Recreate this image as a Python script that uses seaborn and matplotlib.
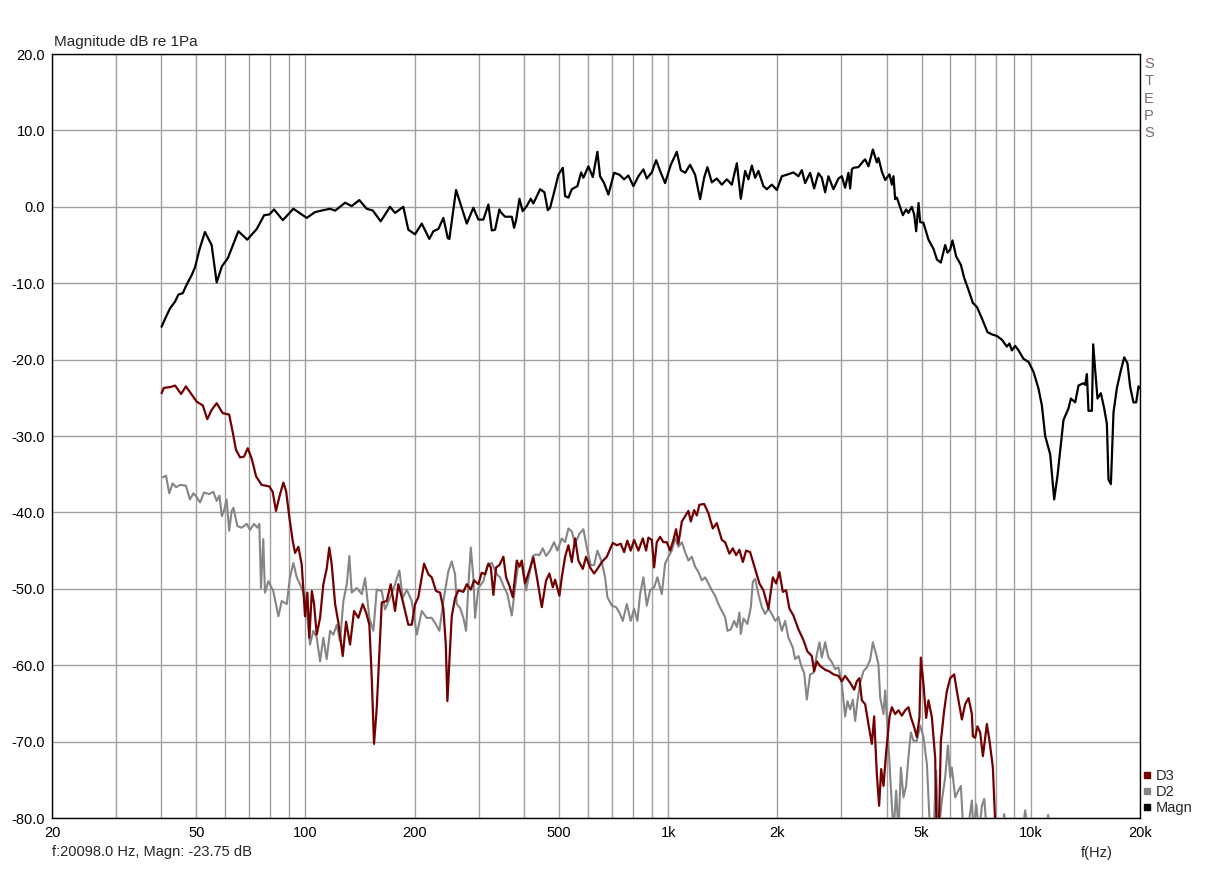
import matplotlib
matplotlib.use("Agg")
import matplotlib.pyplot as plt
from matplotlib.lines import Line2D
import seaborn as sns
import pandas as pd

# ---------------- data ----------------
magn_freq = [40.1, 41.25, 42.3, 43.7, 44.6, 45.9, 47.0, 48.6, 49.6, 51.0, 52.8, 55.1, 56.9, 58.8, 61.1,
             65.3, 69.1, 73.4, 76.9, 79.5, 81.9, 86.6, 92.6, 100.8, 106.2, 112, 116.9, 120.7, 128.6,
             134.1, 140.8, 147.5, 153.3, 161.2, 171, 176.6, 186.1, 192.1, 200.5, 209.2, 219.5, 225.2,
             232.5, 240, 246.8, 249.3, 260.1, 278.4, 290.3, 299.7, 309.4, 319.4, 326.3, 333.2, 342.5,
             344, 355, 370.5, 376, 381, 389, 397, 407.6, 418, 425, 443.5, 455.8, 465.7, 472.6, 487.8,
             498.1, 512.3, 519.8, 530.8, 542.4, 562, 575.4, 583.8, 602.6, 619.7, 638.1, 649.1, 665.8,
             684.2, 709.5, 733.7, 756, 776.9, 802, 827.9, 854.6, 873.2, 901.4, 926.3, 950.2, 980.8,
             1016.9, 1056.5, 1083.6, 1113.7, 1149.5, 1186.6, 1225, 1256.5, 1283.1, 1319.4, 1361.9,
             1406, 1451.3, 1498.1, 1546.6, 1586, 1630, 1664.7, 1701, 1737, 1773.8, 1831, 1870.9,
             1931.4, 1993.6, 2058, 2124.5, 2215, 2286.7, 2336.6, 2386, 2463, 2526.6, 2596.2, 2653,
             2709, 2766.6, 2856, 2948, 3012.5, 3076, 3141.4, 3175.5, 3210, 3242.7, 3347, 3455, 3492.6,
             3566.5, 3668, 3762, 3800.7, 3884, 3966, 4076, 4138, 4181, 4226, 4272, 4438, 4531, 4598,
             4698, 4768, 4829, 4902, 4953, 5058, 5221, 5390, 5508, 5648, 5805, 5891, 5993, 6081, 6225,
             6414, 6550, 6734, 6922, 7100, 7329, 7594, 7809, 8061, 8321, 8589, 8732, 8866, 9054, 9251,
             9545, 9853, 10171, 10498, 10727, 10954, 11308, 11599, 11845, 12103, 12304, 12700, 12895,
             13253, 13534, 13937, 14123, 14277, 14421, 14736, 14859, 15048, 15270, 15603, 15933,
             16207, 16374, 16626, 16903, 17271, 17714, 18090, 18473, 18793, 19190, 19523, 19810, 20000]
magn_db = [-15.7, -14.4, -13.3, -12.4, -11.5, -11.3, -10.2, -8.9, -7.9, -5.6, -3.3, -5.0, -9.9, -7.8, -6.7,
           -3.2, -4.3, -2.9, -1.1, -1.0, -0.35, -1.75, -0.26, -1.45, -0.7, -0.44, -0.26, -0.5, 0.53,
           0.1, 0.88, -0.26, -0.48, -1.9, 0.0, -0.8, 0.0, -3.0, -3.6, -2.2, -4.2, -3.2,
           -2.9, -1.45, -4.1, -4.2, 2.2, -2.2, -0.13, -1.67, -1.67, 0.3, -3.1, -3.0, -0.35,
           -0.6, -1.3, -1.3, -2.75, -1.7, 1.05, -0.57, 0.1, 1.05, 0.44, 2.3, 1.9, -0.44, -0.13, 2.4,
           4.2, 5.1, 1.4, 1.2, 2.3, 2.7, 4.5, 3.8, 5.3, 3.9, 7.2, 4.0, 3.1,
           1.6, 4.45, 4.2, 3.6, 4.1, 2.7, 4.0, 4.9, 3.7, 4.5, 6.1, 4.7, 3.1,
           5.5, 7.2, 4.8, 4.45, 5.5, 4.2, 1.0, 3.8, 5.2, 3.2, 3.7,
           2.9, 3.6, 2.9, 5.7, 1.05, 4.7, 3.6, 5.4, 3.8, 4.7, 2.7, 2.3,
           2.9, 2.2, 4.0, 4.2, 4.5, 4.0, 4.8, 3.1, 4.45, 2.4, 4.4, 3.8,
           1.9, 4.0, 2.3, 3.7, 4.0, 2.5, 4.45, 2.4, 4.9, 5.1, 5.2, 6.0, 6.2,
           5.3, 7.5, 5.8, 6.4, 4.6, 3.5, 4.25, 2.9, 4.0, 1.0, 1.2, -1.1, -0.35, -0.8,
           0.0, -1.0, -3.2, 0.5, -2.0, -2.1, -4.3, -5.5, -6.9, -7.3, -5.0, -6.0, -5.6, -4.4, -6.5,
           -7.6, -9.3, -10.9, -12.6, -13.1, -14.6, -16.4, -16.7, -16.9, -17.4, -18.3, -17.9, -18.8, -18.2, -18.8,
           -19.9, -20.3, -21.6, -23.8, -26.0, -30.0, -32.4, -38.3, -35.2, -31.1, -27.9, -26.4, -25.1,
           -25.6, -23.4, -23.1, -23.3, -21.9, -26.7, -26.7, -18.0, -21.4, -25.1, -24.4, -26.4,
           -28.4, -35.7, -36.3, -26.9, -23.7, -21.4, -19.7, -20.5, -23.6, -25.6, -25.6, -23.5, -23.75]

d3_freq = [40.1, 40.7, 42.3, 43.7, 45.4, 46.8, 48.6, 50.1, 52.1, 53.6, 55.1, 56.9, 59.1, 61.6, 63.0,
           64.3, 66.0, 67.7, 69.3, 71.1, 73.1, 75.7, 79.5, 81.2, 82.9, 85.1, 86.9, 88.4, 90.3, 92.2,
           93.6, 95.6, 97.6, 98.6, 99.7, 101.2, 102.5, 104.1, 105.6, 107.4, 109.7, 112, 114.4, 116.3,
           118.1, 120.7, 123.2, 126.7, 129.4, 132.7, 136.1, 139.9, 143.8, 146.9, 150, 152.3, 154.5,
           157.2, 159.8, 162.3, 167.5, 171.8, 176.6, 180.3, 185.4, 192.1, 196.3, 200.5, 204.7, 212.3,
           218.2, 222.9, 229.1, 235, 240, 243.7, 246.2, 249.3, 253.1, 258.5, 264, 272.5, 278.4, 285.6,
           291.6, 299.7, 306.1, 312.8, 319.4, 324.3, 329.7, 335.4, 342.5,
           351.3, 357.4, 364.9, 372.9, 382.5, 389, 394.8, 403.2, 414.3, 425, 436, 448.3, 460.7, 470.5,
           480.8, 487.8, 501.3, 509, 519.8, 530.8, 542.4, 553.9, 565.6, 581.6, 593.9, 609.1, 624.9,
           638.1, 656.2, 677.3, 703.6, 721.7, 740.3, 756, 771.6, 788.3, 805.6, 827.9, 851.4, 869.3,
           882.1, 901.4, 914.7, 930.4, 950.2, 970.2, 991.4, 1012.5, 1033.9, 1051.7, 1067.2, 1090.6,
           1113.7, 1137.3, 1154.6, 1179.2, 1199.5, 1219.5, 1256.5, 1291.2, 1327.8, 1361.9, 1406,
           1435.8, 1475.4, 1507.7, 1539.6, 1572.2, 1606.6, 1640.5, 1682.7, 1737, 1785, 1831, 1890,
           1943.7, 1984.7, 2026.7, 2071, 2114.9, 2159.8, 2215, 2286.7, 2360, 2421, 2490, 2527, 2570,
           2624, 2709, 2779, 2856, 2948, 3012, 3076, 3175, 3257, 3313, 3368, 3420, 3493, 3566, 3645,
           3698, 3762, 3817, 3867, 3924, 3991, 4076, 4138, 4226, 4315, 4410, 4503, 4598, 4669, 4768,
           4850, 4931, 4974, 5058, 5145, 5221, 5335, 5448, 5508, 5563, 5623, 5648, 5769, 5868, 5993,
           6147, 6253, 6455, 6591, 6734, 6878, 6922, 7024, 7126, 7250, 7376, 7484, 7565, 7692, 7859,
           7974, 8077]
d3_db = [-24.4, -23.7, -23.6, -23.4, -24.5, -23.5, -24.6, -25.5, -26.0, -27.8, -26.6, -25.7, -27.0, -27.2, -29.5,
         -31.8, -32.8, -32.7, -31.6, -33.0, -35.3, -36.4, -36.6, -37.3, -39.8, -37.6, -36.1, -37.2, -40.7, -43.7,
         -45.3, -44.5, -46.8, -49.9, -53.6, -50.5, -56.4, -50.3, -52.0, -56.0, -53.8, -49.4, -47.4, -44.6,
         -46.8, -52.0, -54.4, -58.8, -54.3, -57.3, -52.9, -53.8, -52.0, -53.1, -54.7, -61.7, -70.3,
         -65.6, -58.6, -51.8, -51.6, -49.4, -52.9, -49.4, -51.6, -54.7, -54.7, -52.0, -51.1, -46.7,
         -48.1, -48.5, -50.3, -50.5, -52.6, -57.3, -64.7, -59.5, -53.6, -51.2, -50.2, -50.4, -49.4, -50.1,
         -48.9, -49.4, -47.9, -48.1, -46.7, -47.2, -50.8, -47.2, -46.9,
         -45.8, -48.5, -49.6, -51.1, -46.3, -47.1, -46.3, -49.3, -47.6, -45.9, -48.9, -52.4, -48.9, -48.0,
         -49.8, -48.8, -50.9, -48.5, -45.8, -44.3, -46.5, -43.4, -46.3, -47.4, -45.8, -47.2, -48.0,
         -47.4, -46.5, -45.8, -44.0, -44.3, -44.1, -45.2, -43.7, -45.0, -43.6, -45.0, -43.4, -45.0,
         -43.3, -43.6, -47.2, -43.9, -43.2, -43.9, -43.9, -45.0, -43.6, -42.2, -44.1, -41.2,
         -40.5, -39.8, -41.2, -39.7, -40.4, -39.0, -38.9, -40.1, -42.1, -41.4, -43.6,
         -43.9, -45.4, -44.7, -45.6, -44.9, -46.5, -45.0, -45.2, -47.4, -49.3, -50.2, -52.6,
         -48.5, -49.3, -47.8, -50.4, -50.2, -52.6, -53.5, -55.3, -56.7, -58.2, -58.8, -60.8, -59.5,
         -60.1, -60.6, -60.8, -61.2, -61.4, -62.1, -61.4, -62.3, -63.2, -62.1, -61.7, -64.6, -65.1, -67.7, -70.3,
         -66.7, -74.3, -78.4, -73.6, -75.8, -71.4, -66.8, -65.5, -66.4, -65.9, -66.6, -65.9, -65.5, -66.8, -68.1,
         -69.4, -66.8, -59.0, -62.5, -66.9, -64.6, -66.8, -72.1, -84.0, -84.0, -74.3, -70.0, -65.9, -63.4, -61.7,
         -61.2, -63.4, -67.1, -65.1, -64.3, -66.4, -69.3, -69.5, -68.0, -68.8, -71.9, -69.5, -67.7, -69.9, -73.4,
         -80.5, -86.0]

d2_freq = [40.4, 41.25, 42.1, 43.0, 44.0, 45.1, 46.8, 48.0, 49.1, 50.1, 51.2, 52.5, 54.3, 55.7, 56.9,
           57.9, 58.8, 59.6, 60.6, 61.6, 62.6, 63.3, 64.9, 66.7, 68.9, 70.3, 72.1, 73.7, 74.6, 75.4,
           76.5, 77.3, 79.0, 81.5, 84.2, 86.0, 88.8, 90.6, 92.6, 94.6, 96.6, 98.6, 100.8, 102.9, 105.1,
           107.4, 109.7, 112, 114.4, 116.9, 119.4, 122, 124.5, 127.2, 130, 132.1, 134.1, 138.5, 143,
           146, 150, 153.9, 157.2, 162.3, 165.7, 171, 176.6, 181.5, 185.4, 190.2, 196.3, 202.7, 209.2,
           215.9, 222.9, 229.1, 234, 240, 247.7, 253.1, 258.5, 261.3, 266.8, 272.5, 277.2, 281.4, 285.6,
           290.3, 293.5, 299.7, 309.4, 317.4, 326.3, 336.9,
           344, 352.9, 360.3, 370.5, 378.4, 386.4, 394.8, 405.8, 416.2, 423.4, 432.4, 441.6, 451.2,
           460.7, 472.6, 484.7, 495, 509, 519.8, 530.8, 542.4, 553.9, 569.2, 583.8, 598.8, 611.8,
           624.9, 638.1, 656.2, 670, 680, 699.2, 718.5, 733.7, 749.8, 769, 788.3, 805.6, 822.6, 836.8,
           854.6, 873.2, 891.7, 914.7, 934, 960.5, 980.8, 1001.6, 1023.4, 1045.2, 1067.2, 1090.6,
           1113.7, 1137.3, 1162.1, 1186.6, 1211.8, 1238.3, 1264.4, 1291.2, 1319.4, 1347.3, 1375.8,
           1406, 1435.8, 1456.7, 1488.6, 1520.2, 1546.6, 1572.2, 1586, 1612.6, 1654.1, 1690.2, 1711.8,
           1737, 1773.8, 1812.4, 1850.8, 1890, 1931.4, 1972.3, 2014, 2058, 2101.5, 2146, 2206.9,
           2239.2, 2286.7, 2336.6, 2371, 2411.8, 2463, 2515, 2570, 2612.8, 2653, 2709, 2766.6, 2827,
           2887, 2948, 3012.5, 3076, 3122, 3175, 3230, 3278, 3326, 3384, 3455, 3531, 3605, 3668, 3745,
           3801, 3842, 3924, 3966, 4024, 4093, 4181, 4253, 4315, 4382, 4455, 4531, 4598, 4669, 4747,
           4850, 4953, 5058, 5168, 5278, 5390, 5483, 5563, 5685, 5805, 5905, 5993, 6057, 6186, 6317,
           6414, 6520, 6676, 6878, 6948, 7068, 7204, 7329, 7441, 7565, 8285, 8444, 8606, 9466, 9648,
           9834, 10954, 11165, 11380]
d2_db = [-35.4, -35.2, -37.5, -36.2, -36.7, -36.4, -36.5, -38.3, -37.5, -38.0, -38.7, -37.4, -37.6, -37.3, -38.5,
         -37.8, -40.5, -39.8, -38.3, -42.4, -39.8, -39.4, -41.8, -42.0, -41.5, -42.3, -41.5, -42.0, -41.5, -49.9,
         -43.5, -50.5, -49.0, -50.3, -53.6, -51.6, -52.0, -48.5, -46.6, -48.5, -49.4, -50.5, -53.1, -57.3, -55.5,
         -56.4, -59.5, -56.4, -59.2, -55.5, -56.0, -54.7, -56.9, -51.6, -49.4, -45.7, -50.5, -49.9, -50.7,
         -48.6, -53.8, -55.5, -50.1, -50.3, -52.7, -51.2, -49.4, -47.6, -51.2, -50.1, -51.6, -56.0, -52.9,
         -53.8, -53.8, -54.7, -55.5, -51.6, -47.7, -46.4, -48.1, -52.0, -52.5, -53.8, -55.5, -49.4, -44.6,
         -48.5, -53.8, -49.9, -49.0, -47.0, -46.6, -48.1,
         -48.5, -49.8, -50.7, -53.5, -49.8, -46.7, -46.9, -50.2, -47.6, -45.7, -45.5, -45.6, -44.7,
         -45.7, -45.0, -43.9, -45.0, -43.4, -43.9, -42.1, -42.5, -44.1, -42.8, -42.2, -45.0, -46.9,
         -46.9, -45.0, -46.5, -48.5, -51.1, -52.2, -52.4, -53.1, -54.2, -52.0, -54.2, -52.6, -54.2, -50.7,
         -48.5, -52.2, -50.2, -49.8, -48.5, -50.7, -46.7, -45.8, -45.0, -43.4, -44.5, -43.9,
         -45.2, -46.3, -45.8, -47.1, -47.8, -48.9, -48.5, -49.3, -50.2, -50.9, -52.0,
         -52.9, -53.7, -55.5, -55.3, -54.2, -55.0, -53.1, -55.9, -53.9, -54.6, -52.4, -49.1,
         -48.7, -50.7, -52.4, -53.3, -52.6, -53.3, -54.2, -53.7, -55.5, -54.2, -56.4, -57.7,
         -59.2, -58.8, -60.3, -61.0, -64.5, -61.2, -61.0, -58.6, -57.0, -59.0, -57.0, -59.0, -59.6,
         -60.5, -60.3, -62.5, -66.7, -64.7, -65.8, -64.5, -67.3, -64.7, -62.3, -60.8, -60.3, -59.3, -57.0, -58.6,
         -59.9, -64.2, -66.4, -63.3, -68.1, -74.2, -82.0, -76.4, -82.0, -73.4, -77.3, -75.8, -72.0, -68.8, -69.9,
         -69.9, -67.9, -69.4, -72.9, -82.0, -82.0, -73.8, -82.0, -77.7, -74.7, -70.5, -74.7, -73.4, -77.3, -76.4,
         -75.8, -82.0, -82.0, -77.7, -82.0, -78.2, -82.0, -78.4, -77.5, -82.0, -82.0, -79.5, -82.0, -82.0, -79.0,
         -82.0, -82.0, -79.6, -82.0]

series_names = ["D3", "D2", "Magn"]
series_colors = {"D3": "#720000", "D2": "#858585", "Magn": "#000000"}

x_major = [20, 50, 100, 200, 500, 1000, 2000, 5000, 10000, 20000]
x_major_labels = ["20", "50", "100", "200", "500", "1k", "2k", "5k", "10k", "20k"]
y_ticks = [-80, -70, -60, -50, -40, -30, -20, -10, 0, 10, 20]

# ---------------- figure ----------------
sns.set_theme(style="white")
plt.rcParams["font.family"] = ["Liberation Sans", "DejaVu Sans"]

W, H = 1206, 869
fig = plt.figure(figsize=(W / 100, H / 100), dpi=100)
fig.patch.set_facecolor("white")
ax = fig.add_axes([52 / W, 1 - 818 / H, 1088 / W, 764 / H])
ax.set_facecolor("white")

df_d2 = pd.DataFrame({"f": d2_freq, "dB": d2_db})
df_d3 = pd.DataFrame({"f": d3_freq, "dB": d3_db})
df_m = pd.DataFrame({"f": magn_freq, "dB": magn_db})

sns.lineplot(data=df_d2, x="f", y="dB", ax=ax, color=series_colors["D2"], lw=1.5,
             estimator=None, sort=False, zorder=3)
sns.lineplot(data=df_d3, x="f", y="dB", ax=ax, color=series_colors["D3"], lw=1.6,
             estimator=None, sort=False, zorder=4)
sns.lineplot(data=df_m, x="f", y="dB", ax=ax, color=series_colors["Magn"], lw=1.6,
             estimator=None, sort=False, zorder=5)

ax.set_xscale("log")
ax.set_xlim(20, 20000)
ax.set_ylim(-80, 20)

minor = []
for dec in [10, 100, 1000, 10000]:
    for m in range(1, 10):
        v = m * dec
        if 20 <= v <= 20000 and v not in x_major:
            minor.append(v)
ax.set_xticks(x_major)
ax.set_xticklabels(x_major_labels)
ax.set_xticks(minor, minor=True)
ax.set_xticklabels([], minor=True)
ax.set_yticks(y_ticks)
ax.set_yticklabels([f"{v:.1f}" for v in y_ticks])

ax.grid(True, which="both", axis="x", color="#a0a0a0", lw=1.0)
ax.grid(True, which="major", axis="y", color="#a0a0a0", lw=1.0)
ax.set_axisbelow(True)

ax.tick_params(axis="both", which="both", length=0, labelsize=10.5, colors="black")
ax.tick_params(axis="x", pad=6)
ax.tick_params(axis="y", pad=5)
ax.set_xlabel("")
ax.set_ylabel("")
for s in ax.spines.values():
    s.set_visible(True)
    s.set_color("black")
    s.set_linewidth(1.0)

# texts
fig.text(54 / W, 1 - 42 / H, "Magnitude dB re 1Pa", ha="left", va="center", fontsize=11)
fig.text(52 / W, 1 - 852 / H, "f:20098.0 Hz, Magn: -23.75 dB", ha="left", va="center", fontsize=10.5)
fig.text(1097 / W, 1 - 853 / H, "f(Hz)", ha="center", va="center", fontsize=10.5)
fig.text(1149 / W, 1 - 57 / H, "S\nT\nE\nP\nS", ha="center", va="top", fontsize=10.5,
         color="#806a6a", linespacing=1.3)

handles = [Line2D([], [], marker="s", linestyle="", color=series_colors[n], markersize=5)
           for n in series_names]
leg = ax.legend(handles, series_names, loc="lower left", bbox_to_anchor=(1.0, 0.0),
                frameon=False, fontsize=10.5, handlelength=0.6, handletextpad=0.3,
                labelspacing=0.15, borderpad=0.2, borderaxespad=0.0)

fig.savefig("out.png", dpi=100, facecolor="white")
